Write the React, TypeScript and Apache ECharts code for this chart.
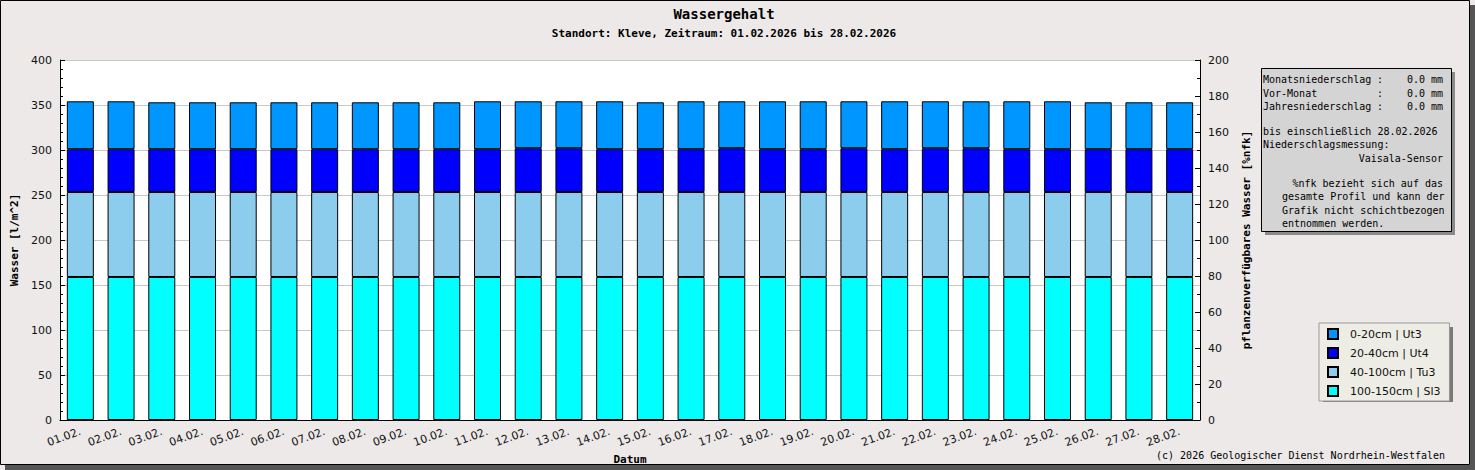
import React, { useEffect, useRef } from 'react';
import * as echarts from 'echarts';

const dates = [
  '01.02.', '02.02.', '03.02.', '04.02.', '05.02.', '06.02.', '07.02.',
  '08.02.', '09.02.', '10.02.', '11.02.', '12.02.', '13.02.', '14.02.',
  '15.02.', '16.02.', '17.02.', '18.02.', '19.02.', '20.02.', '21.02.',
  '22.02.', '23.02.', '24.02.', '25.02.', '26.02.', '27.02.', '28.02.',
];

// values in l/m^2 per layer (stacked from bottom)
const layer100_150 = [
  158.9, 158.9, 158.9, 158.9, 158.9, 158.9, 158.9, 158.9, 158.9, 158.9,
  158.9, 158.9, 158.9, 158.9, 158.9, 158.9, 158.9, 158.9, 158.9, 158.9,
  158.9, 158.9, 158.9, 158.9, 158.9, 158.9, 158.9, 158.9,
];
const layer40_100 = [
  94.4, 94.4, 94.4, 94.4, 94.4, 94.4, 94.4, 94.4, 94.4, 94.4,
  94.4, 94.4, 94.4, 94.4, 94.4, 94.4, 94.4, 94.4, 94.4, 94.4,
  94.4, 94.4, 94.4, 94.4, 94.4, 94.4, 94.4, 94.4,
];
const layer20_40 = [
  47.6, 47.6, 47.6, 47.6, 47.6, 47.6, 47.6, 47.6, 47.6, 47.6,
  47.6, 48.7, 48.7, 47.6, 47.6, 47.6, 48.7, 47.6, 47.6, 48.7,
  47.6, 48.7, 48.7, 47.6, 47.6, 47.6, 47.6, 47.6,
];
const layer0_20 = [
  53.2, 53.2, 52.1, 52.1, 52.1, 52.1, 52.1, 52.1, 52.1, 52.1,
  53.2, 52.1, 52.1, 53.2, 52.1, 53.2, 52.1, 53.2, 53.2, 52.1,
  53.2, 52.1, 52.1, 53.2, 53.2, 52.1, 52.1, 52.1,
];

const layerNames = ['0-20cm | Ut3', '20-40cm | Ut4', '40-100cm | Tu3', '100-150cm | Sl3'];
const layerColors = ['#0096FF', '#0000FF', '#8CCDEE', '#00FFFF'];

const leftTicks = { min: 0, max: 400, interval: 50 };
const rightTicks = { min: 0, max: 200, interval: 20 };

const infoLines = [
  { label: 'Monatsniederschlag', value: '0.0 mm' },
  { label: 'Vor-Monat', value: '0.0 mm' },
  { label: 'Jahresniederschlag', value: '0.0 mm' },
];

const MONO = '"DejaVu Sans Mono", "Liberation Mono", monospace';
const SANS = '"DejaVu Sans", Verdana, sans-serif';

export default function App() {
  const ref = useRef<HTMLDivElement>(null);

  useEffect(() => {
    document.body.style.margin = '0';
    if (!ref.current) return;
    const chart = echarts.init(ref.current, undefined, { renderer: 'svg' });

    const seriesData = [layer0_20, layer20_40, layer40_100, layer100_150];
    const order = [3, 2, 1, 0]; // bottom first
    const series = order.map((i) => ({
      name: layerNames[i],
      type: 'bar',
      stack: 'total',
      barWidth: 27,
      data: seriesData[i],
      itemStyle: { color: layerColors[i], borderColor: '#000', borderWidth: 1 },
      emphasis: { disabled: true },
    }));

    const monoText = (text: string, x: number, y: number, align = 'left', extra: any = {}) => ({
      type: 'text',
      z: 10,
      style: {
        text, x, y, align, verticalAlign: 'middle',
        fontFamily: MONO, fontSize: 10, fill: '#000', ...extra,
      },
    });

    const lineY = [79.5, 93, 106.5];
    const graphics: any[] = [
      // frame border and shadow
      { type: 'rect', z: 0, shape: { x: 1470, y: 5, width: 5, height: 465 }, style: { fill: '#555' } },
      { type: 'rect', z: 0, shape: { x: 5, y: 465, width: 1470, height: 5 }, style: { fill: '#555' } },
      { type: 'rect', z: 0, shape: { x: 0.5, y: 0.5, width: 1469, height: 464 }, style: { fill: 'none', stroke: '#000', lineWidth: 1 } },
      // title
      { type: 'text', z: 10, style: { text: 'Wassergehalt', x: 724, y: 14, align: 'center', verticalAlign: 'middle', fontFamily: MONO, fontSize: 14, fontWeight: 'bold', fill: '#000' } },
      { type: 'text', z: 10, style: { text: 'Standort: Kleve, Zeitraum: 01.02.2026 bis 28.02.2026', x: 724, y: 33.5, align: 'center', verticalAlign: 'middle', fontFamily: MONO, fontSize: 11, fontWeight: 'bold', fill: '#000' } },
      // info box
      { type: 'rect', z: 5, shape: { x: 1265, y: 72, width: 190, height: 163 }, style: { fill: '#8a8a8a' } },
      { type: 'rect', z: 6, shape: { x: 1261.5, y: 68.5, width: 190, height: 163 }, style: { fill: '#D4D4D4', stroke: '#000', lineWidth: 1 } },
      // legend shadow
      { type: 'rect', z: 1, shape: { x: 1323, y: 327, width: 130, height: 75 }, style: { fill: '#7a7a7a' } },
      // copyright
      monoText('(c) 2026 Geologischer Dienst Nordrhein-Westfalen', 1445, 455.5, 'right'),
    ];
    infoLines.forEach((l, i) => {
      graphics.push(monoText(l.label, 1263, lineY[i]));
      graphics.push(monoText(':', 1377, lineY[i]));
      graphics.push(monoText(l.value, 1443, lineY[i], 'right'));
    });
    graphics.push(monoText('bis einschließlich 28.02.2026', 1263, 131));
    graphics.push(monoText('Niederschlagsmessung:', 1263, 144.5));
    graphics.push(monoText('Vaisala-Sensor', 1443, 158, 'right'));
    graphics.push(monoText('%nfk bezieht sich auf das', 1443, 183, 'right'));
    graphics.push(monoText('gesamte Profil und kann der', 1282, 196.5));
    graphics.push(monoText('Grafik nicht schichtbezogen', 1282, 210));
    graphics.push(monoText('entnommen werden.', 1282, 223.5));

    chart.setOption({
      animation: false,
      backgroundColor: '#ECE9E8',
      grid: {
        left: 60, right: 275, top: 60, bottom: 50,
        outerBoundsMode: 'none',
        containLabel: false,
        show: true, backgroundColor: '#fff', borderWidth: 0,
      },
      legend: {
        orient: 'vertical',
        left: 1319, top: 323,
        data: layerNames,
        icon: 'rect',
        itemWidth: 10, itemHeight: 10, itemGap: 7,
        padding: [5, 9, 4, 8],
        backgroundColor: '#EDEDE5',
        borderColor: '#999', borderWidth: 1,
        selectedMode: false,
        z: 4,
        textStyle: { fontFamily: SANS, fontSize: 11, color: '#111', lineHeight: 11, padding: [0, 0, 0, 7] },
      },
      xAxis: {
        type: 'category',
        data: dates,
        boundaryGap: true,
        name: 'Datum',
        nameLocation: 'middle',
        nameGap: 30,
        nameTextStyle: { fontFamily: MONO, fontSize: 11, fontWeight: 'bold', color: '#000' },
        axisLine: { lineStyle: { color: '#000', width: 1 } },
        axisTick: { inside: true, length: 5, lineStyle: { color: '#000' } },
        axisLabel: { rotate: 20, margin: 11, fontFamily: SANS, fontSize: 11, color: '#111', interval: 0 },
        splitLine: { show: false },
      },
      yAxis: [
        {
          type: 'value',
          ...leftTicks,
          position: 'left',
          name: 'Wasser [l/m^2]',
          nameLocation: 'middle',
          nameGap: 40,
          nameRotate: 90,
          nameTextStyle: { fontFamily: MONO, fontSize: 11, fontWeight: 'bold', color: '#000' },
          axisLine: { show: true, lineStyle: { color: '#000', width: 1 } },
          axisTick: { show: true, inside: true, length: 5, lineStyle: { color: '#000' } },
          minorTick: { show: true, splitNumber: 5, length: 3, lineStyle: { color: '#000' } },
          axisLabel: { margin: 8, fontFamily: SANS, fontSize: 11, color: '#111' },
          splitLine: { show: true, lineStyle: { color: '#C8C8C8', width: 1 } },
        },
        {
          type: 'value',
          ...rightTicks,
          position: 'right',
          name: 'pflanzenverfügbares Wasser [%nfk]',
          nameLocation: 'middle',
          nameGap: 41,
          nameRotate: 90,
          nameTextStyle: { fontFamily: MONO, fontSize: 11, fontWeight: 'bold', color: '#000' },
          axisLine: { show: true, lineStyle: { color: '#000', width: 1 } },
          axisTick: { show: true, inside: true, length: 5, lineStyle: { color: '#000' } },
          minorTick: { show: true, splitNumber: 2, length: 3, lineStyle: { color: '#000' } },
          axisLabel: { margin: 8, fontFamily: SANS, fontSize: 11, color: '#111' },
          splitLine: { show: false },
        },
      ],
      series,
      graphic: { elements: graphics },
    });

    return () => chart.dispose();
  }, []);

  return <div ref={ref} style={{ width: 1475, height: 470 }} />;
}
